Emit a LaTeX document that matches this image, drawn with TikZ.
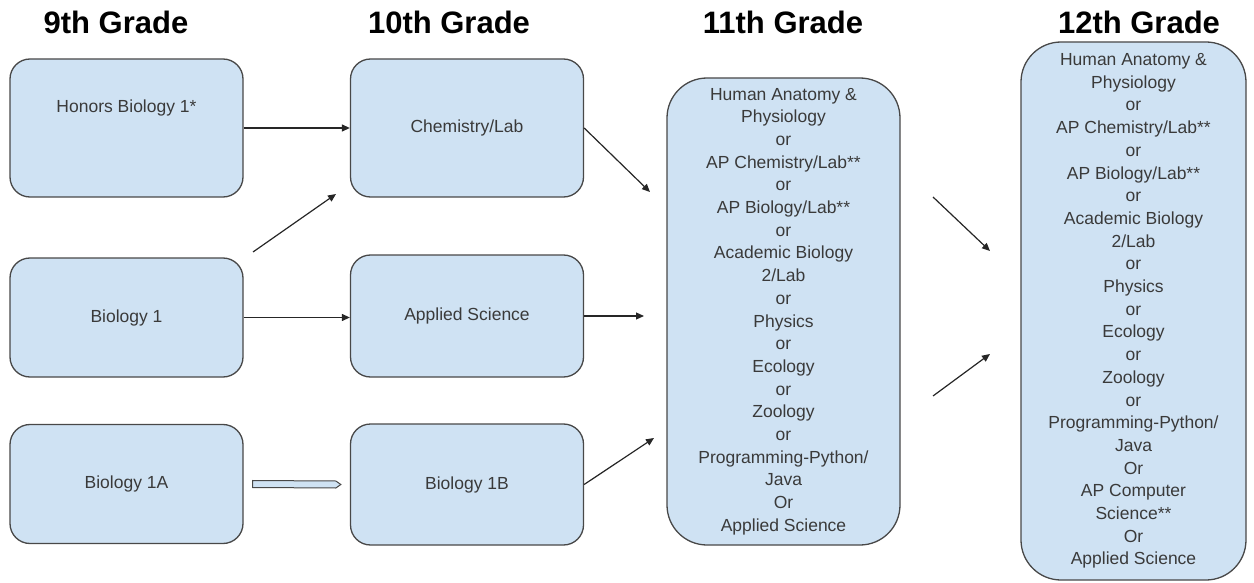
\documentclass[tikz,border=0pt]{standalone}
\usepackage{fontspec}
\setmainfont{Liberation Sans}
\usetikzlibrary{arrows.meta}
\definecolor{boxfill}{HTML}{CFE2F3}
\definecolor{boxline}{HTML}{484848}
\definecolor{txt}{HTML}{3A3A3A}
\tikzset{
  box/.style={draw=boxline, fill=boxfill, line width=1.3pt, rounded corners=20pt,
    minimum width=233pt, inner sep=0pt, font=\fontsize{17.5}{22.7}\selectfont,
    text=txt, align=center},
  bigbox/.style={box, rounded corners=40pt},
  lbl/.style={inner sep=0pt, font=\fontsize{17.5}{22.7}\selectfont, text=txt},
  gradetitle/.style={inner sep=0pt, font=\fontsize{31}{36}\selectfont\bfseries, text=black},
  conn/.style={-{Triangle[length=8pt,width=7pt]}, line width=1.2pt, draw=black!85},
  blockarrow/.style={draw=boxline, fill=boxfill, line width=1pt, line join=miter},
}
\begin{document}
\begin{tikzpicture}[x=1pt,y=-1pt]
\useasboundingbox (0,0) rectangle (1254,583);

% titles
\node[gradetitle] (t9)  at (116,22)  {9th Grade};
\node[gradetitle] (t10) at (449,22)  {10th Grade};
\node[gradetitle] (t11) at (783,22)  {11th Grade};
\node[gradetitle] (t12) at (1139,22) {12th Grade};

% 9th grade
\node[box, minimum height=138pt] (hon) at (126.5,128) {};
\node[lbl] (hont) at (126.5,108) {Honors Biology 1*};
\node[box, minimum height=119pt] (bio1) at (126.5,317.5) {Biology 1};
\node[box, minimum height=119pt] (bio1a) at (126.5,484) {Biology 1A};

% 10th grade
\node[box, minimum height=138pt] (chem) at (467,128) {Chemistry/Lab};
\node[box, minimum height=122pt] (app) at (467,316) {Applied Science};
\node[box, minimum height=121pt] (bio1b) at (467,484.5) {Biology 1B};

% 11th grade
\node[bigbox, minimum height=467pt] (g11) at (783.5,311.5) {Human Anatomy \&\\Physiology\\or\\AP Chemistry/Lab**\\or\\AP Biology/Lab**\\or\\Academic Biology\\2/Lab\\or\\Physics\\or\\Ecology\\or\\Zoology\\or\\Programming-Python/\\Java\\Or\\Applied Science};

% 12th grade
\node[bigbox, minimum width=225pt, minimum height=538pt] (g12) at (1133.5,311) {Human Anatomy \&\\Physiology\\or\\AP Chemistry/Lab**\\or\\AP Biology/Lab**\\or\\Academic Biology\\2/Lab\\or\\Physics\\or\\Ecology\\or\\Zoology\\or\\Programming-Python/\\Java\\Or\\AP Computer\\Science**\\Or\\Applied Science};

% free ends of connectors
\coordinate (b1s) at (253,252);
\coordinate (b1e) at (336,194);
\coordinate (c11) at (650,192);
\coordinate (a11) at (644,316);
\coordinate (b11) at (654,438);
\coordinate (u1s) at (933,197);
\coordinate (u1e) at (990,251);
\coordinate (l1s) at (933,396);
\coordinate (l1e) at (990,354);

% connectors
\draw[conn] (hon.east) -- (chem.west);
\draw[conn] (b1s) -- (b1e);
\draw[conn] (bio1.east) -- (bio1.east -| app.west);
\draw[conn] (chem.east) -- (c11);
\draw[conn] (app.east) -- (a11);
\draw[conn] (bio1b.east) -- (b11);
\draw[conn] (u1s) -- (u1e);
\draw[conn] (l1s) -- (l1e);

% block arrow Biology 1A -> Biology 1B
\draw[blockarrow] ([xshift=9pt,yshift=-3.5pt]bio1a.east) -- ([xshift=-14pt,yshift=-3.5pt]bio1b.west)
  -- ([xshift=-9pt]bio1b.west) -- ([xshift=-14pt,yshift=3.5pt]bio1b.west)
  -- ([xshift=9pt,yshift=3.5pt]bio1a.east) -- cycle;
\end{tikzpicture}
\end{document}
